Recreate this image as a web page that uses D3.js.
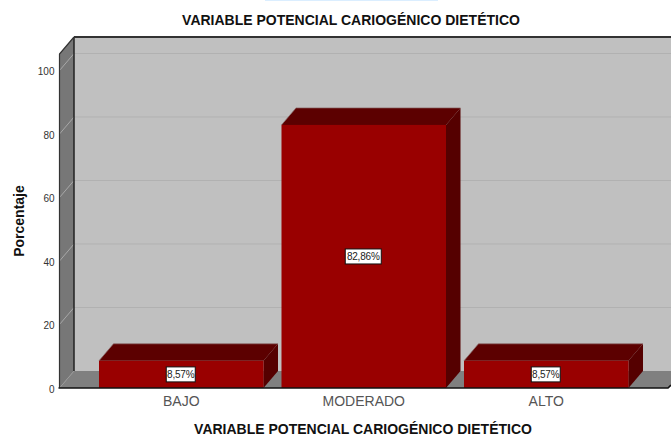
<!DOCTYPE html>
<html><head><meta charset="utf-8">
<script src="https://cdn.jsdelivr.net/npm/d3@7"></script>
<style>html,body{margin:0;padding:0;background:#fff;overflow:hidden}svg{display:block}text{font-family:"Liberation Sans",Arial,sans-serif}</style>
</head><body><svg id="c" width="671" height="437"></svg>
<script>
const chartTitle = "VARIABLE POTENCIAL CARIOGÉNICO DIETÉTICO";
const xTitle = "VARIABLE POTENCIAL CARIOGÉNICO DIETÉTICO";
const yTitle = "Porcentaje";
const categories = ["BAJO", "MODERADO", "ALTO"];
const values = [8.57, 82.86, 8.57];
const labels = ["8,57%", "82,86%", "8,57%"];
const yTicks = [0, 20, 40, 60, 80, 100];
const yTop = 105.2;

const svg = d3.select("#c");
const x = d3.scaleBand().domain(categories).range([90, 637.5]).paddingInner(0.0986).paddingOuter(0.0493);
const y = d3.scaleLinear().domain([0, 100]).range([388, 70.5]);
const dx = 14.5, dy = -17;
const L = 59.5, R = 668;
const line = d3.line();
const poly = (pts, fill) => svg.append("path").attr("d", line(pts) + "Z").attr("fill", fill);

svg.append("rect").attr("x", 265).attr("y", 0).attr("width", 173).attr("height", 1).attr("fill", "#dbeeff");

// back wall
poly([[L+dx, y(yTop)+dy], [671, y(yTop)+dy], [671, y(0)+dy], [L+dx, y(0)+dy]], "#c0c0c0");
// side wall
poly([[L, y(yTop)], [L+dx, y(yTop)+dy], [L+dx, y(0)+dy], [L, y(0)]], "#777777");
// floor
poly([[L, y(0)], [L+dx, y(0)+dy], [671, y(0)+dy], [671, y(0)-2.5], [R, y(0)]], "#808080");

// gridlines
svg.append("g").selectAll("line").data(yTicks.slice(1)).join("line")
  .attr("x1", L+dx).attr("x2", 671).attr("y1", d => y(d)+dy).attr("y2", d => y(d)+dy)
  .attr("stroke", "#b1b1b1").attr("stroke-width", 1);
svg.append("g").selectAll("line").data(yTicks.slice(1)).join("line")
  .attr("x1", L).attr("x2", L+dx).attr("y1", d => y(d)).attr("y2", d => y(d)+dy)
  .attr("stroke", "#a8a8a8").attr("stroke-width", 1);

// frame
const frame = (pts, w, c) => svg.append("path").attr("d", line(pts)).attr("fill", "none").attr("stroke", c).attr("stroke-width", w);
frame([[L+dx, y(0)+dy], [L+dx, y(yTop)+dy]], 1.5, "#222");
frame([[L+dx, y(yTop)+dy], [671, y(yTop)+dy]], 2, "#333");
frame([[L, y(0)], [L, y(yTop)], [L+dx, y(yTop)+dy]], 1.2, "#333");
frame([[L, y(0)], [L+dx, y(0)+dy]], 0.6, "#999");

// bars
const bars = svg.append("g");
categories.forEach((c, i) => {
  const x0 = x(c), x1 = x0 + x.bandwidth(), t = y(values[i]), b = y(0);
  bars.append("path").attr("d", line([[x0, t], [x0+dx, t+dy], [x1+dx, t+dy], [x1, t]]) + "Z").attr("fill", "#5c0000");
  bars.append("path").attr("d", line([[x1, t], [x1+dx, t+dy], [x1+dx, b+dy], [x1, b]]) + "Z").attr("fill", "#550000");
  bars.append("rect").attr("x", x0).attr("y", t).attr("width", x.bandwidth()).attr("height", b - t).attr("fill", "#990000");
  bars.append("path").attr("d", line([[x0, t], [x0+dx, t+dy], [x1+dx, t+dy]])).attr("fill", "none").attr("stroke", "#8a6a6a").attr("stroke-width", 0.7);
});

// baseline
frame([[L-1, y(0)], [R, y(0)], [671, y(0)-3]], 1.6, "#111");

// value labels
const lab = svg.append("g");
categories.forEach((c, i) => {
  const cx = x(c) + x.bandwidth()/2 - 0.5, cy = y(values[i]/2);
  const w = labels[i].length > 5 ? 36 : 29;
  lab.append("rect").attr("x", cx - w/2).attr("y", cy - 7.5).attr("width", w).attr("height", 15)
    .attr("fill", "#fff").attr("stroke", "#111").attr("stroke-width", 1);
  lab.append("text").attr("x", cx).attr("y", cy + 3.5).attr("text-anchor", "middle")
    .attr("font-size", 10).attr("letter-spacing", -0.2).attr("fill", "#222").text(labels[i]);
});

// y axis labels
const ya = svg.append("g").attr("transform", `translate(${L},0)`)
  .call(d3.axisLeft(y).tickValues(yTicks).tickSize(0).tickPadding(5));
ya.select(".domain").remove();
ya.selectAll("text").attr("font-family", '"Liberation Sans",Arial,sans-serif').attr("font-size", 10).attr("fill", "#333").attr("dy", "0.4em");

// x axis labels
const xa = svg.append("g").attr("transform", `translate(0,${y(0)})`)
  .call(d3.axisBottom(x).tickSize(0).tickPadding(8));
xa.select(".domain").remove();
xa.selectAll("text").attr("font-family", '"Liberation Sans",Arial,sans-serif').attr("font-size", 14).attr("fill", "#555");

// titles
const titleStyle = s => s.attr("text-anchor", "middle").attr("font-size", 14).attr("font-weight", "bold").attr("fill", "#111");
svg.append("text").attr("x", 351).attr("y", 25).call(titleStyle).text(chartTitle);
svg.append("text").attr("x", 363).attr("y", 434).call(titleStyle).text(xTitle);
svg.append("text").attr("transform", "translate(24,221) rotate(-90)").call(titleStyle).text(yTitle);
</script></body></html>
